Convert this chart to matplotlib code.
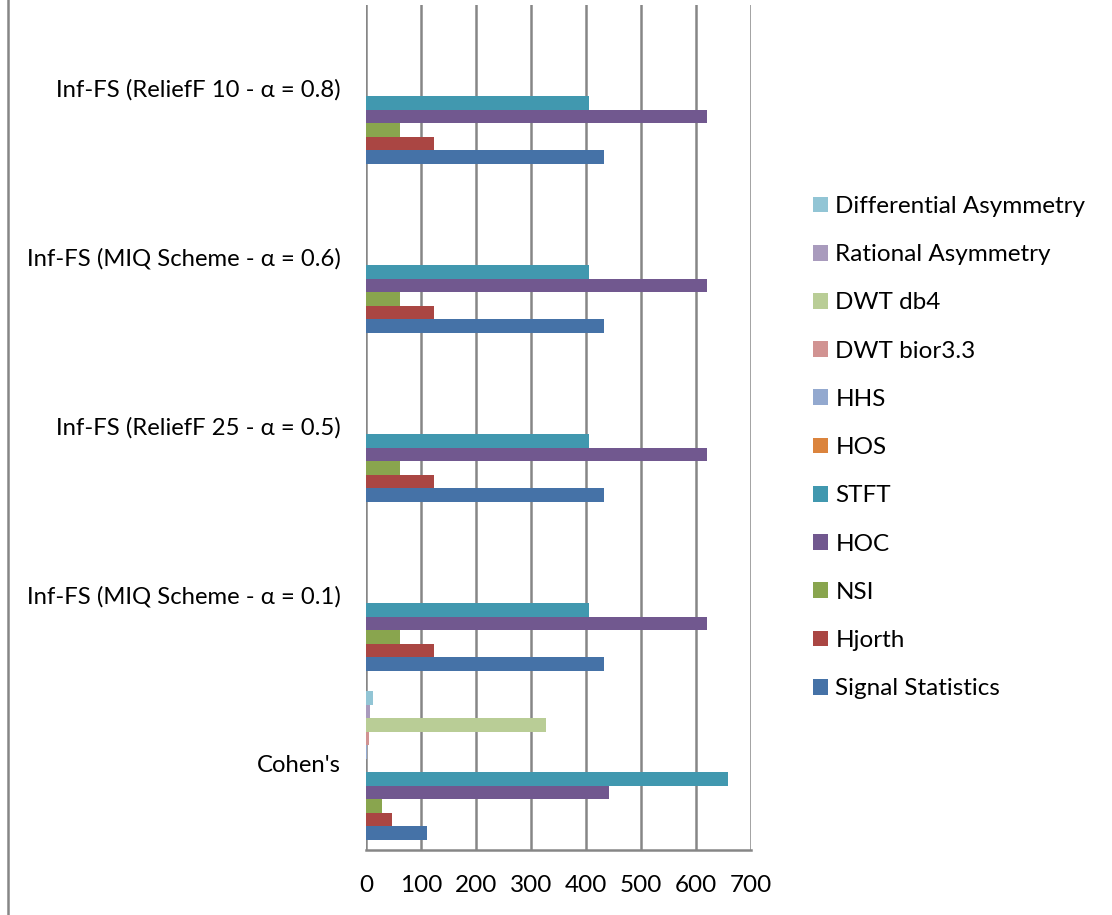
import matplotlib
matplotlib.use("Agg")
import matplotlib.pyplot as plt
import numpy as np
from matplotlib.patches import Patch
from matplotlib.lines import Line2D

categories = ["Cohen's",
              "Inf-FS (MIQ Scheme - α = 0.1)",
              "Inf-FS (ReliefF 25 - α = 0.5)",
              "Inf-FS (MIQ Scheme - α = 0.6)",
              "Inf-FS (ReliefF 10 - α = 0.8)"]

series_names = ["Signal Statistics", "Hjorth", "NSI", "HOC", "STFT", "HOS",
                "HHS", "DWT bior3.3", "DWT db4", "Rational Asymmetry",
                "Differential Asymmetry"]

signal_statistics = [110, 433, 433, 433, 433]
hjorth = [48, 124, 124, 124, 124]
nsi = [29, 61, 61, 61, 61]
hoc = [442, 620, 620, 620, 620]
stft = [658, 405, 405, 405, 405]
hos = [0, 0, 0, 0, 0]
hhs = [2, 0, 0, 0, 0]
dwt_bior33 = [6, 0, 0, 0, 0]
dwt_db4 = [328, 0, 0, 0, 0]
rational_asym = [8, 0, 0, 0, 0]
differential_asym = [12, 0, 0, 0, 0]

series_values = [signal_statistics, hjorth, nsi, hoc, stft, hos, hhs,
                 dwt_bior33, dwt_db4, rational_asym, differential_asym]

colors = ["#4572A7", "#AA4643", "#89A54E", "#71588F", "#4198AF", "#DB843D",
          "#93A9CF", "#D19392", "#B9CD96", "#A99BBD", "#92C5D5"]

xticks = [0, 100, 200, 300, 400, 500, 600, 700]

FONT = ['Lato', 'DejaVu Sans']
plt.rcParams['font.family'] = FONT

W, H = 1112, 915
fig = plt.figure(figsize=(W / 100, H / 100), dpi=100)
ax = fig.add_axes([366 / W, 1 - 850 / H, (751 - 366) / W, (850 - 5) / H])

n = len(series_names)
bar_h = 1.0 / (n + 1.5)
y = np.arange(len(categories))
for i, (name, vals, c) in enumerate(zip(series_names, series_values, colors)):
    off = (i - (n - 1) / 2) * bar_h
    ax.barh(y + off, vals, height=bar_h, color=c, edgecolor='none',
            linewidth=0, zorder=3, label=name)

ax.set_xlim(0, 700)
ax.set_ylim(-0.5, len(categories) - 0.5)
ax.set_xticks(xticks)
ax.set_xticklabels([str(t) for t in xticks], fontsize=17.5)
ax.set_yticks(y)
ax.set_yticklabels(categories, fontsize=17.2)
ax.tick_params(axis='y', length=0, pad=18)
ax.tick_params(axis='x', length=0, pad=18)
ax.xaxis.grid(True, color="#868686", linewidth=1.8, zorder=0)
for s in ["top", "right"]:
    ax.spines[s].set_visible(False)
ax.spines["left"].set_visible(False)
ax.spines["bottom"].set_color("#868686")
ax.spines["bottom"].set_linewidth(1.8)

for lab in ax.get_yticklabels():
    lab.set_verticalalignment('center')

handles = [Patch(facecolor=c, edgecolor='none') for c in colors][::-1]
labels = series_names[::-1]
fig.legend(handles, labels, loc='upper left',
           bbox_to_anchor=(813 / W, 1 - 196 / H), frameon=False,
           fontsize=17.5, handlelength=0.62, handleheight=0.62,
           handletextpad=0.3, labelspacing=1.12, borderpad=0,
           borderaxespad=0)

fig.add_artist(Line2D([7.5 / W, 7.5 / W], [0, 1], color="#868686",
                      linewidth=1.8, transform=fig.transFigure))

fig.savefig("out.png", dpi=100)
